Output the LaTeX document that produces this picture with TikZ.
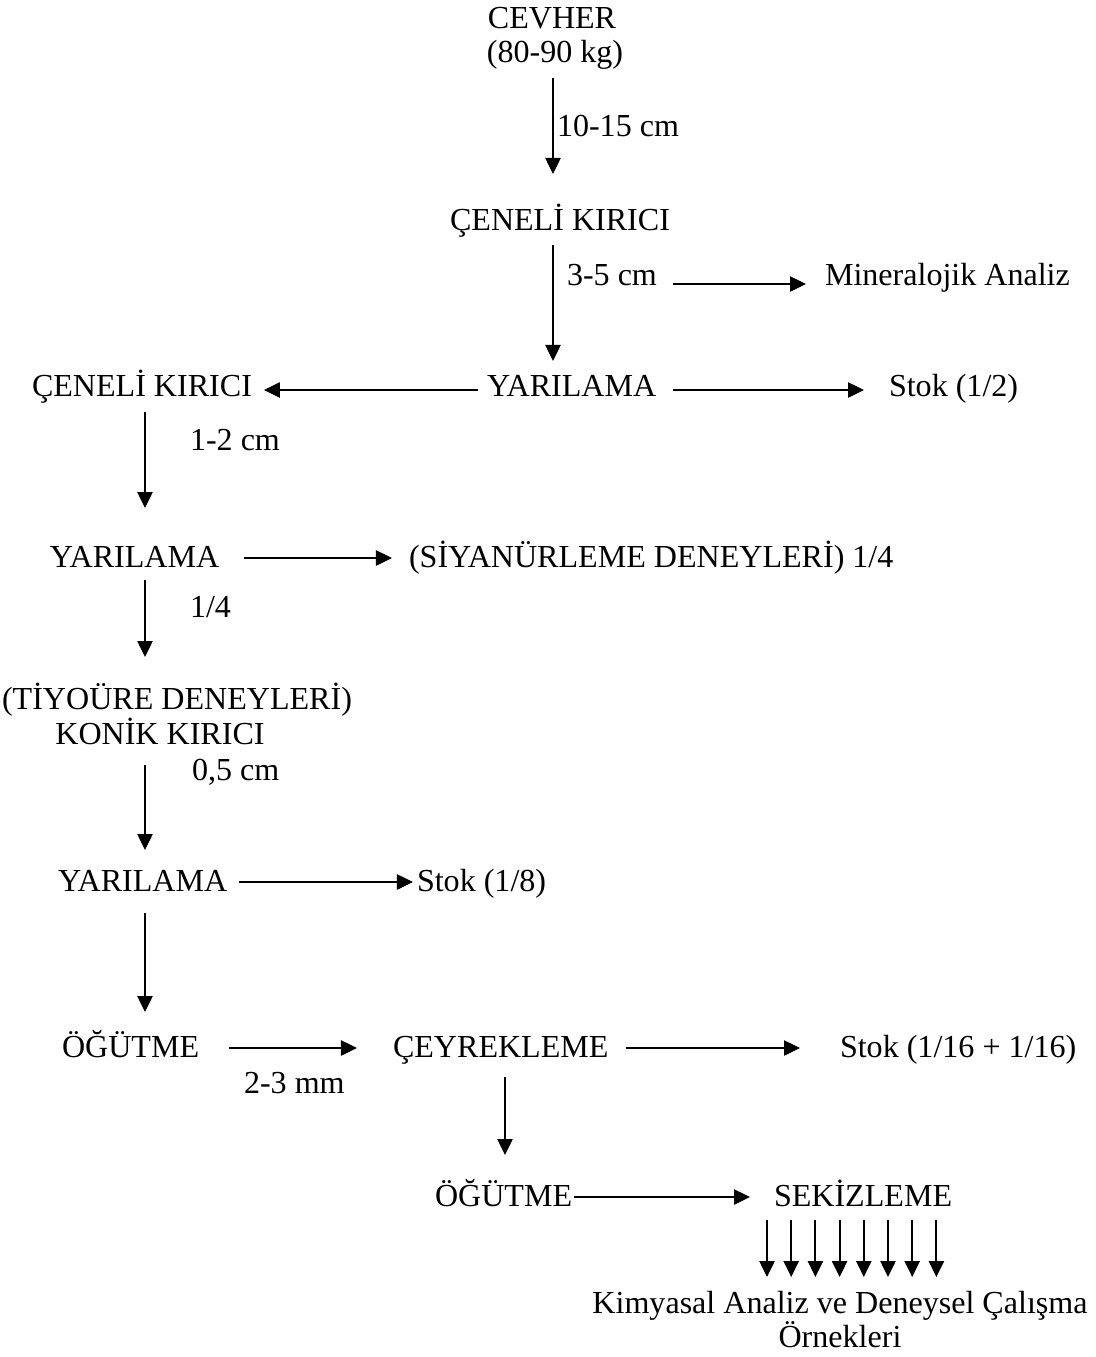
\documentclass[tikz,border=0pt]{standalone}
\usepackage{fontspec}
\setmainfont{Liberation Serif}
\usetikzlibrary{arrows.meta,calc}
\tikzset{
	lbl/.style={inner sep=0pt,outer sep=0pt,anchor=base west,text height=0.55cm,text depth=0.175cm,font=\fontsize{22.8pt}{24.5pt}\selectfont},
	arr/.style={line width=1.3pt,-{Triangle[length=0.4cm,width=0.38cm]}}
}
\begin{document}
\begin{tikzpicture}[x=0.025cm,y=-0.025cm]
	\useasboundingbox (0,0) rectangle (1096,1357);
	\coordinate (colA) at (553,0);
	\coordinate (colL) at (145,0);
	\coordinate (colC) at (505,0);
	\coordinate (fan) at (767,0);
	
	\node[lbl,anchor=base] (cevher) at (552,28) {CEVHER};
	\node[lbl,anchor=base] (kg) at (555,62) {(80-90 kg)};
	\node[lbl] (s1015) at (557,136) {10-15 cm};
	\node[lbl,anchor=base] (ceneliA) at (560,230) {ÇENELİ KIRICI};
	\node[lbl] (s35) at (567,285) {3-5 cm};
	\node[lbl] (miner) at (825,285) {Mineralojik Analiz};
	\node[lbl] (yarA) at (487,396) {YARILAMA};
	\node[lbl] (ceneliB) at (32,396) {ÇENELİ KIRICI};
	\node[lbl] (stokA) at (889,396) {Stok (1/2)};
	\node[lbl] (s12) at (190,450) {1-2 cm};
	\node[lbl] (yarB) at (50,567) {YARILAMA};
	\node[lbl] (siyan) at (409,567) {(SİYANÜRLEME DENEYLERİ) 1/4};
	\node[lbl] (q14) at (190,617) {1/4};
	\node[lbl,anchor=base] (tiyo) at (177,709) {(TİYOÜRE DENEYLERİ)};
	\node[lbl,anchor=base] (konik) at (160,744) {KONİK KIRICI};
	\node[lbl] (s05) at (192,780) {0,5 cm};
	\node[lbl] (yarC) at (58,891) {YARILAMA};
	\node[lbl] (stokB) at (417,891) {Stok (1/8)};
	\node[lbl] (ogutA) at (62,1057) {ÖĞÜTME};
	\node[lbl] (s23) at (244,1093) {2-3 mm};
	\node[lbl] (ceyrek) at (393,1057) {ÇEYREKLEME};
	\node[lbl] (stokC) at (840,1057) {Stok (1/16 + 1/16)};
	\node[lbl] (ogutB) at (435,1206) {ÖĞÜTME};
	\node[lbl] (sekiz) at (774,1206) {SEKİZLEME};
	\node[lbl,anchor=base] (kimya) at (840,1313) {Kimyasal Analiz ve Deneysel Çalışma};
	\node[lbl,anchor=base] (ornek) at (840,1347) {Örnekleri};
	
	% vertical flow
	\draw[arr] ($(kg.south -| colA)+(0,9)$) -- ($(ceneliA.north -| colA)+(0,-34)$);
	\draw[arr] ($(ceneliA.south -| colA)+(0,8)$) -- ($(yarA.north -| colA)+(0,-13)$);
	\draw[arr] ($(ceneliB.south -| colL)+(0,9)$) -- ($(yarB.north -| colL)+(0,-37)$);
	\draw[arr] ($(yarB.south -| colL)+(0,6)$) -- ($(tiyo.north -| colL)+(0,-30)$);
	\draw[arr] ($(konik.south -| colL)+(0,14)$) -- ($(yarC.north -| colL)+(0,-19)$);
	\draw[arr] ($(yarC.south -| colL)+(0,15)$) -- ($(ogutA.north -| colL)+(0,-23)$);
	\draw[arr] ($(ceyrek.south -| colC)+(0,13)$) -- ($(ogutB.north -| colC)+(0,-29)$);
	\foreach \i in {0,...,7}
		\draw[arr] ($(sekiz.south -| fan)+(\i*24.2,7)$) -- ($(kimya.north -| fan)+(\i*24.2,-14)$);
	
	% side branches
	\draw[arr] ($(s35.base east)+(16,-1)$) -- ($(miner.base west)+(-19,-1)$);
	\draw[arr] ($(yarA.base west)+(-9,-6)$) -- ($(ceneliB.base east)+(12,-6)$);
	\draw[arr] ($(yarA.base east)+(17,-6)$) -- ($(stokA.base west)+(-25,-6)$);
	\draw[arr] ($(yarB.base east)+(25,-9)$) -- ($(siyan.base west)+(-17,-9)$);
	\draw[arr] ($(yarC.base east)+(12,-9)$) -- ($(stokB.base west)+(-4,-9)$);
	\draw[arr] ($(ogutA.base east)+(30,-9)$) -- ($(ceyrek.base west)+(-36,-9)$);
	\draw[arr] ($(ceyrek.base east)+(17,-9)$) -- ($(stokC.base west)+(-40,-9)$);
	\draw[arr] ($(ogutB.base east)+(2,-9)$) -- ($(sekiz.base west)+(-24,-9)$);
\end{tikzpicture}
\end{document}
